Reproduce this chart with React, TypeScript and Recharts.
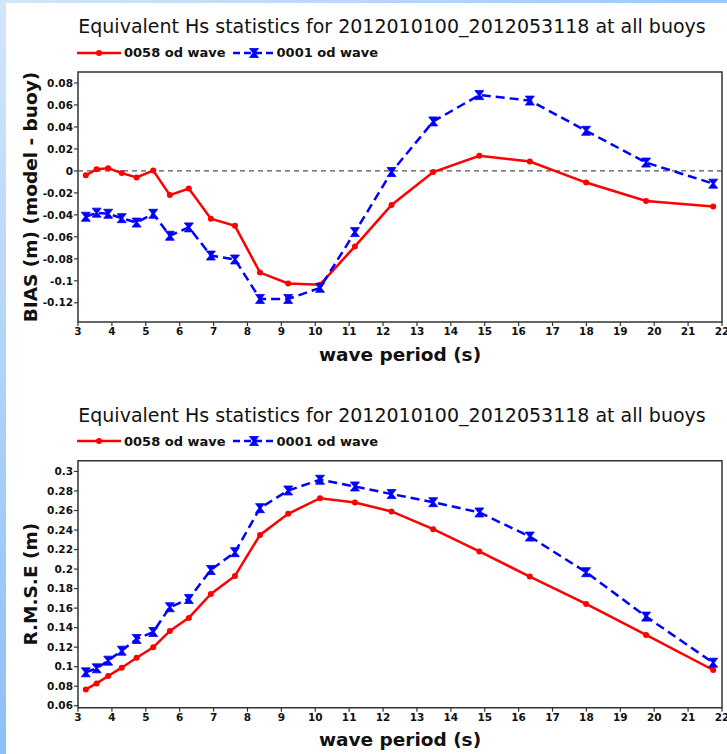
import React from "react";
import {
  LineChart,
  Line,
  XAxis,
  YAxis,
  Legend,
  ReferenceLine,
  ReferenceArea,
} from "recharts";

// wave period bins (s)
const periods = [
  3.23, 3.55, 3.89, 4.29, 4.73, 5.22, 5.71, 6.27, 6.92, 7.63, 8.37, 9.2, 10.14,
  11.17, 12.25, 13.48, 14.84, 16.33, 17.99, 19.76, 21.74,
];

const bias0058 = [
  -0.004, 0.0015, 0.0025, -0.002, -0.006, 0.0003, -0.022, -0.016, -0.0435,
  -0.05, -0.0925, -0.1025, -0.1035, -0.0687, -0.031, -0.001, 0.0137, 0.0085,
  -0.0106, -0.0274, -0.0325,
];
const bias0001 = [
  -0.0417, -0.038, -0.039, -0.043, -0.047, -0.039, -0.059, -0.0514, -0.077,
  -0.0806, -0.1165, -0.1165, -0.1064, -0.0557, -0.001, 0.045, 0.069, 0.064,
  0.0365, 0.0076, -0.0116,
];

const rmse0058 = [
  0.0767, 0.0829, 0.0904, 0.099, 0.1092, 0.1198, 0.1366, 0.15, 0.1745, 0.193,
  0.235, 0.2566, 0.2726, 0.2682, 0.259, 0.2409, 0.218, 0.1923, 0.1643, 0.1325,
  0.0966,
];
const rmse0001 = [
  0.0942, 0.0983, 0.1062, 0.1164, 0.1284, 0.1356, 0.1609, 0.1694, 0.1991,
  0.2173, 0.2624, 0.2805, 0.2915, 0.2846, 0.2768, 0.2685, 0.258, 0.2333,
  0.1968, 0.1513, 0.1041,
];

const xTicks = [3, 4, 5, 6, 7, 8, 9, 10, 11, 12, 13, 14, 15, 16, 17, 18, 19, 20, 21, 22];
const biasTicks = [-0.12, -0.1, -0.08, -0.06, -0.04, -0.02, 0, 0.02, 0.04, 0.06, 0.08];
const rmseTicks = [0.06, 0.08, 0.1, 0.12, 0.14, 0.16, 0.18, 0.2, 0.22, 0.24, 0.26, 0.28, 0.3];

const title = "Equivalent Hs statistics for 2012010100_2012053118 at all buoys";
const name0058 = "0058 od wave";
const name0001 = "0001 od wave";

const RED = "#ff0000";
const BLUE = "#0000ff";
const INK = "#111111";
const FONT = "'DejaVu Sans', sans-serif";

const biasData = periods.map((p, i) => ({ period: p, a: bias0058[i], b: bias0001[i] }));
const rmseData = periods.map((p, i) => ({ period: p, a: rmse0058[i], b: rmse0001[i] }));

const tickStyle = { fontSize: 10.5, fontWeight: "bold", fontFamily: FONT, fill: INK };
const fmt = (v: number) => String(parseFloat(v.toFixed(2)));

function Hourglass({ cx, cy, color }: { cx: number; cy: number; color: string }) {
  const w = 4.5;
  const h = 4.5;
  const d = `M${cx - w},${cy - h} L${cx + w},${cy - h} L${cx + 1},${cy} L${cx + w},${cy + h} L${cx - w},${cy + h} L${cx - 1},${cy} Z`;
  return <path d={d} fill={color} stroke={color} strokeWidth={0.8} />;
}

function LegendRow() {
  return (
    <div style={{ display: "flex", alignItems: "center", fontFamily: FONT, fontWeight: "bold", fontSize: 13, color: INK, whiteSpace: "nowrap" }}>
      <svg width={45} height={10} style={{ marginRight: 2 }}>
        <line x1={0} y1={5} x2={44} y2={5} stroke={RED} strokeWidth={2.5} />
        <circle cx={22} cy={5} r={3} fill={RED} />
      </svg>
      <span>{name0058}</span>
      <svg width={43} height={12} style={{ marginLeft: 7, marginRight: 1 }}>
        <line x1={0} y1={6} x2={42} y2={6} stroke={BLUE} strokeWidth={2.5} strokeDasharray="7 4" />
        <Hourglass cx={21} cy={6} color={BLUE} />
      </svg>
      <span>{name0001}</span>
    </div>
  );
}

type PanelProps = {
  data: { period: number; a: number; b: number }[];
  top: number;
  height: number;
  marginTop: number;
  xAxisHeight: number;
  xLabelOffset: number;
  yDomain: [number, number];
  yTicks: number[];
  yLabel: string;
  zeroLine?: boolean;
};

function Panel({ data, top, height, marginTop, xAxisHeight, xLabelOffset, yDomain, yTicks, yLabel, zeroLine }: PanelProps) {
  return (
    <div style={{ position: "absolute", left: 0, top, width: 727, height }}>
      <div
        style={{
          position: "absolute",
          left: 0,
          width: 784,
          top: marginTop - 55,
          textAlign: "center",
          fontFamily: FONT,
          fontSize: 19,
          lineHeight: "19px",
          color: INK,
          whiteSpace: "nowrap",
        }}
      >
        {title}
      </div>
      <LineChart width={727} height={height} data={data} margin={{ top: marginTop, right: 5, bottom: 0, left: 0 }}>
        <XAxis
          dataKey="period"
          type="number"
          domain={[3, 22]}
          ticks={xTicks}
          interval={0}
          allowDataOverflow
          axisLine={false}
          tickLine={{ stroke: "#333", strokeWidth: 1.2 }}
          tickSize={4}
          tick={tickStyle}
          height={xAxisHeight}
          label={{
            value: "wave period (s)",
            position: "insideBottom",
            offset: xLabelOffset,
            style: { fontSize: 18.5, fontWeight: "bold", fontFamily: FONT, fill: INK },
          }}
        />
        <YAxis
          type="number"
          domain={yDomain}
          ticks={yTicks}
          interval={0}
          allowDataOverflow
          width={78}
          axisLine={false}
          tickLine={{ stroke: "#333", strokeWidth: 1.2 }}
          tickSize={4}
          tickMargin={1}
          tick={tickStyle}
          tickFormatter={fmt}
          label={{
            value: yLabel,
            angle: -90,
            position: "center",
            dx: -9,
            style: { fontSize: 18.5, fontWeight: "bold", fontFamily: FONT, fill: INK, textAnchor: "middle" },
          }}
        />
        <Legend
          layout="vertical"
          align="center"
          verticalAlign="middle"
          wrapperStyle={{ top: marginTop - 27, left: 77, width: "auto" }}
          content={() => <LegendRow />}
        />
        <ReferenceArea
          x1={3}
          x2={22}
          y1={yDomain[0]}
          y2={yDomain[1]}
          fill="none"
          stroke="#333"
          strokeWidth={1.5}
          ifOverflow="visible"
        />
        {zeroLine && <ReferenceLine y={0} stroke="#555" strokeDasharray="5 4" strokeWidth={1.2} />}
        <Line
          dataKey="a"
          name={name0058}
          stroke={RED}
          strokeWidth={2.5}
          dot={{ r: 3, fill: RED, stroke: RED, strokeWidth: 0 }}
          isAnimationActive={false}
        />
        <Line
          dataKey="b"
          name={name0001}
          stroke={BLUE}
          strokeWidth={2.5}
          strokeDasharray="9 5"
          dot={(p: any) => <Hourglass key={`hg-${p.index}`} cx={p.cx} cy={p.cy} color={BLUE} />}
          isAnimationActive={false}
        />
      </LineChart>
    </div>
  );
}

export default function App() {
  return (
    <div
      style={{
        position: "absolute",
        left: 0,
        top: 0,
        width: 727,
        height: 754,
        overflow: "hidden",
        background: "linear-gradient(to bottom, #d2e6fc, #8cbff8)",
      }}
    >
      <div
        style={{
          position: "absolute",
          left: 0,
          top: 0,
          width: 727,
          height: 3,
          background: "linear-gradient(to right, #d2e6fc, #9cc8f8)",
        }}
      />
      <div style={{ position: "absolute", left: 6, top: 3, right: 0, bottom: 0, background: "#ffffff" }} />
      <Panel
        data={biasData}
        top={0}
        height={375}
        marginTop={72}
        xAxisHeight={53}
        xLabelOffset={14}
        yDomain={[-0.1375, 0.09]}
        yTicks={biasTicks}
        yLabel="BIAS (m) (model - buoy)"
        zeroLine
      />
      <Panel
        data={rmseData}
        top={375}
        height={379}
        marginTop={85.7}
        xAxisHeight={46.3}
        xLabelOffset={8}
        yDomain={[0.058, 0.311]}
        yTicks={rmseTicks}
        yLabel="R.M.S.E (m)"
      />
    </div>
  );
}
